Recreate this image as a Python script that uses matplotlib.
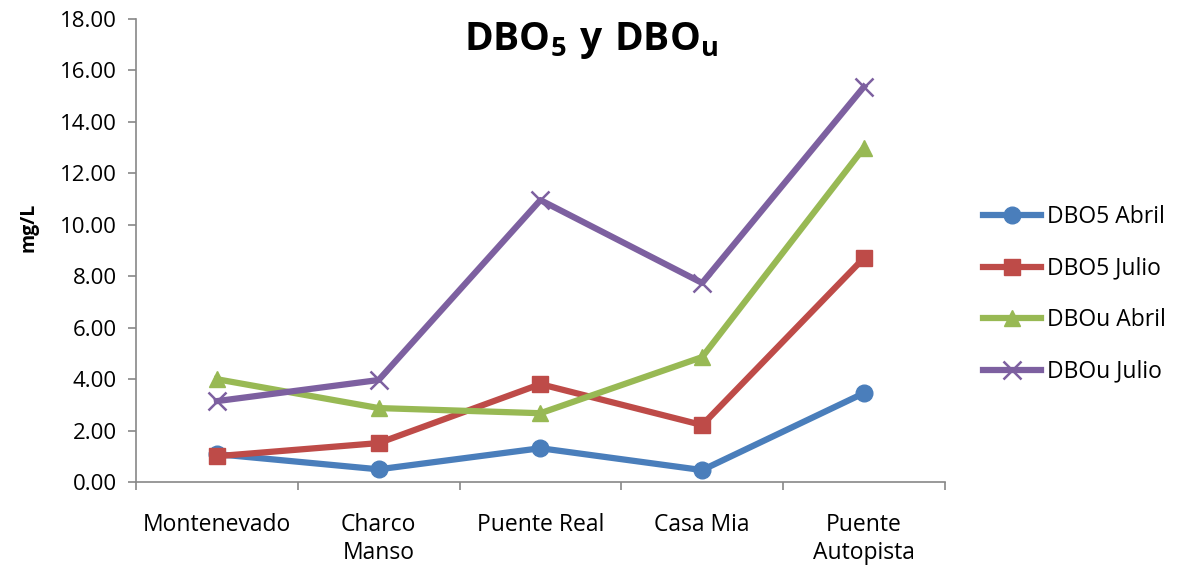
import matplotlib
matplotlib.use("Agg")
import matplotlib.pyplot as plt
from matplotlib.ticker import FixedLocator

plt.rcParams['font.family'] = ['Open Sans', 'DejaVu Sans']
plt.rcParams['mathtext.fontset'] = 'custom'
plt.rcParams['mathtext.rm'] = 'Open Sans'
plt.rcParams['mathtext.bf'] = 'Open Sans:bold'

categories = ["Montenevado", "Charco\nManso", "Puente Real", "Casa Mia", "Puente\nAutopista"]
dbo5_abril = [1.09, 0.50, 1.32, 0.47, 3.46]
dbo5_julio = [1.01, 1.52, 3.81, 2.22, 8.71]
dbou_abril = [4.00, 2.88, 2.68, 4.86, 12.99]
dbou_julio = [3.15, 3.97, 10.96, 7.74, 15.36]
yticks = [0, 2, 4, 6, 8, 10, 12, 14, 16, 18]

fig = plt.figure(figsize=(11.78, 5.72), dpi=100)
ax = fig.add_axes([0.1155, 0.157, 0.6865, 0.810])

x = list(range(len(categories)))
lw = 4.5
ax.plot(x, dbo5_abril, color='#4A7EBB', lw=lw, marker='o', ms=12, label='DBO5 Abril')
ax.plot(x, dbo5_julio, color='#BE4B48', lw=lw, marker='s', ms=11, label='DBO5 Julio')
ax.plot(x, dbou_abril, color='#98B954', lw=lw, marker='^', ms=12, label='DBOu Abril')
ax.plot(x, dbou_julio, color='#7D60A0', lw=lw, marker='x', ms=13, mew=1.8, label='DBOu Julio')

ax.set_xlim(-0.5, len(categories) - 0.5)
ax.set_ylim(0, 18)
ax.set_yticks(yticks)
ax.set_yticklabels([f"{v:.2f}" for v in yticks])
ax.set_xticks(x)
ax.set_xticklabels(categories, linespacing=1.25)
ax.xaxis.set_minor_locator(FixedLocator([i - 0.5 for i in range(len(categories) + 1)]))
ax.tick_params(axis='x', which='major', length=0, pad=22, labelsize=16.5)
ax.tick_params(axis='x', which='minor', length=6, color='#888888', width=1.2)
ax.tick_params(axis='y', length=6, color='#888888', width=1.2, labelsize=16, pad=8)

for s in ['top', 'right']:
    ax.spines[s].set_visible(False)
for s in ['left', 'bottom']:
    ax.spines[s].set_color('#888888')
    ax.spines[s].set_linewidth(1.2)

ax.set_ylabel('mg/L', fontsize=14, fontweight='bold')
ax.yaxis.set_label_coords(-0.121, 0.55)
fig.text(0.502, 0.93, r'$\mathbf{DBO_5\ y\ DBO_u}$', fontsize=28, ha='center', va='center')

leg = ax.legend(loc='center left', bbox_to_anchor=(1.047, 0.405), frameon=False,
                borderaxespad=0, borderpad=0,
                fontsize=16.5, labelspacing=1.2, handlelength=2.55, handletextpad=0.25)

fig.savefig('out.png', dpi=100)
